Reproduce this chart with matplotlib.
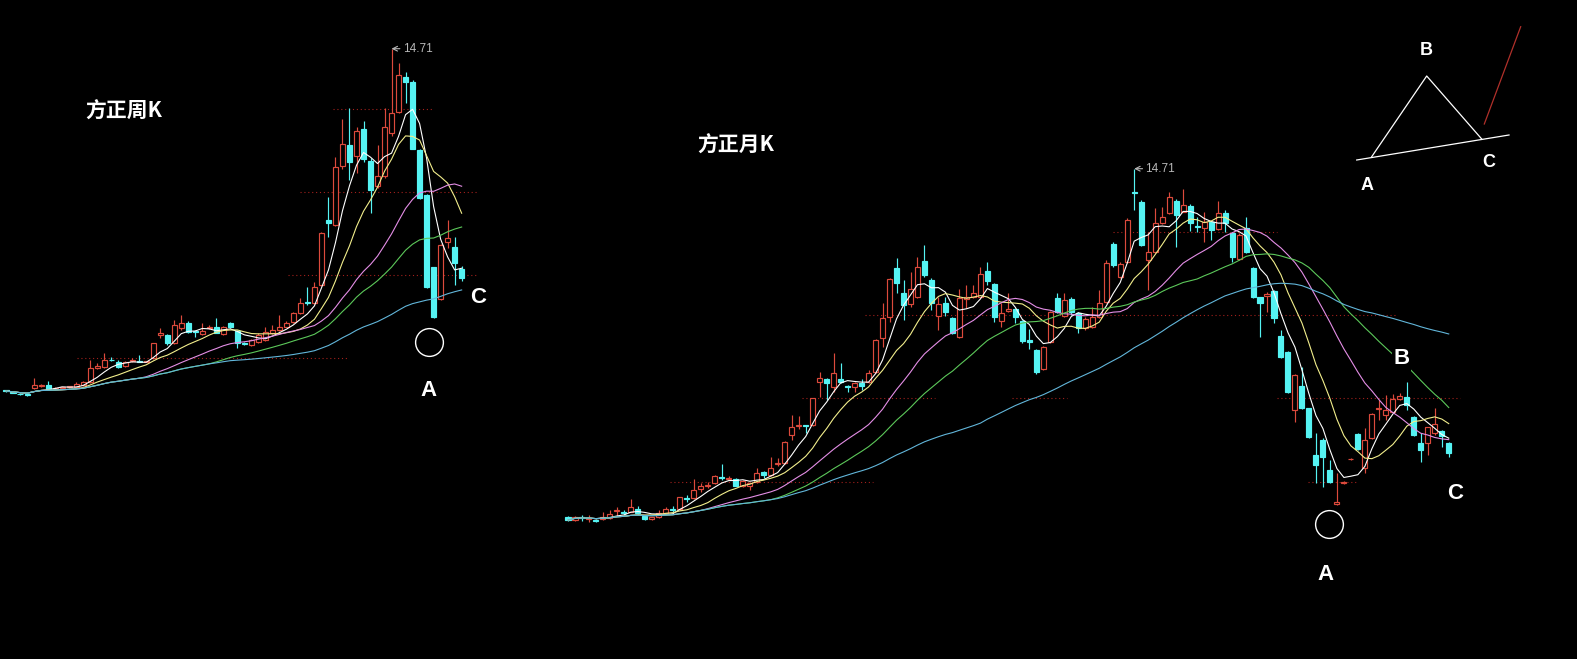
import numpy as np
import pandas as pd
import matplotlib
matplotlib.use('Agg')
import matplotlib.pyplot as plt

# ---- weekly K (方正周K) ----
week_open = [3.32, 3.26, 3.21, 3.19, 3.39, 3.48, 3.50, 3.38, 3.40, 3.42,
             3.44, 3.50, 3.61, 4.08, 4.11, 4.34, 4.28, 4.13, 4.30, 4.30,
             4.28, 4.39, 5.18, 5.17, 4.89, 5.39, 5.56, 5.30, 5.20, 5.39,
             5.42, 5.20, 5.56, 5.30, 4.90, 4.83, 4.94, 5.00, 5.22, 5.33,
             5.44, 5.61, 5.89, 6.28, 6.22, 6.83, 9.00, 8.83, 10.80, 11.50,
             11.13, 12.02, 10.98, 10.13, 10.47, 11.89, 12.61, 13.78, 13.61, 11.33,
             9.83, 7.42, 6.36, 8.28, 8.10, 7.36]
week_high = [3.35, 3.28, 3.23, 3.21, 3.72, 3.55, 3.64, 3.43, 3.45, 3.48,
             3.61, 3.65, 4.33, 4.22, 4.56, 4.44, 4.33, 4.31, 4.39, 4.50,
             4.31, 4.90, 5.39, 5.19, 5.67, 5.83, 5.62, 5.32, 5.56, 5.50,
             5.72, 5.47, 5.60, 5.33, 4.95, 5.03, 5.22, 5.44, 5.50, 5.83,
             5.62, 5.92, 6.39, 6.78, 6.94, 8.60, 9.78, 11.11, 12.36, 12.74,
             12.11, 12.31, 11.05, 11.50, 12.74, 14.71, 14.22, 13.94, 13.67, 11.36,
             9.86, 7.45, 8.20, 9.00, 8.44, 7.47]
week_low = [3.28, 3.22, 3.18, 3.14, 3.36, 3.45, 3.33, 3.36, 3.38, 3.40,
            3.42, 3.48, 3.58, 4.02, 4.08, 4.30, 4.06, 4.11, 4.28, 4.26,
            4.26, 4.37, 5.06, 4.83, 4.86, 5.35, 5.25, 5.11, 5.18, 5.37,
            5.22, 5.18, 5.40, 4.72, 4.83, 4.80, 4.90, 4.97, 5.20, 5.31,
            5.42, 5.58, 5.86, 6.17, 6.20, 6.80, 8.44, 8.80, 10.70, 10.33,
            10.56, 10.95, 9.22, 10.05, 10.40, 11.80, 12.55, 12.89, 11.35, 9.70,
            6.75, 5.72, 6.33, 8.06, 6.83, 6.98]
week_close = [3.30, 3.24, 3.20, 3.16, 3.50, 3.50, 3.36, 3.40, 3.43, 3.45,
              3.53, 3.61, 4.06, 4.12, 4.33, 4.32, 4.11, 4.28, 4.32, 4.28,
              4.29, 4.89, 5.22, 4.89, 5.50, 5.56, 5.28, 5.27, 5.31, 5.44,
              5.24, 5.44, 5.42, 4.89, 4.87, 5.00, 5.17, 5.28, 5.33, 5.44,
              5.58, 5.89, 6.22, 6.22, 6.78, 8.56, 8.89, 10.78, 11.53, 10.94,
              11.98, 11.02, 10.00, 10.47, 12.09, 12.56, 13.83, 13.61, 11.36, 9.72,
              6.78, 5.78, 8.17, 8.39, 7.56, 7.06]

# ---- monthly K (方正月K) ----
month_open = [3.10, 3.00, 3.10, 3.04, 3.00, 3.03, 3.06, 3.30, 3.27, 3.28,
              3.37, 3.14, 3.03, 3.09, 3.24, 3.37, 3.36, 3.73, 3.73, 4.02,
              4.14, 4.22, 4.43, 4.37, 4.37, 4.13, 4.13, 4.28, 4.61, 4.50,
              4.87, 4.89, 5.83, 6.15, 6.15, 6.17, 7.61, 7.69, 7.44, 7.69,
              7.48, 7.44, 7.58, 7.61, 7.94, 9.06, 9.78, 11.39, 10.56, 10.20,
              10.44, 11.63, 11.00, 9.80, 10.24, 9.72, 9.11, 10.37, 10.44, 10.44,
              11.31, 10.87, 9.64, 9.98, 10.03, 9.64, 8.99, 8.67, 8.03, 8.94,
              10.39, 9.80, 10.36, 9.91, 9.39, 9.44, 9.78, 10.28, 12.20, 11.11,
              11.60, 13.93, 13.61, 11.67, 11.94, 12.89, 13.22, 13.64, 13.28, 13.48,
              12.80, 12.72, 12.94, 12.69, 13.24, 12.56, 11.69, 12.72, 11.39, 10.42,
              10.48, 10.63, 9.13, 8.61, 6.67, 7.47, 6.72, 5.17, 5.67, 4.67,
              3.52, 4.24, 5.02, 5.86, 4.72, 5.72, 6.70, 6.50, 6.61, 7.03,
              7.09, 6.44, 5.56, 5.58, 5.89, 5.98, 5.56]
month_high = [3.13, 3.13, 3.17, 3.17, 3.02, 3.28, 3.33, 3.42, 3.33, 3.69,
              3.47, 3.17, 3.11, 3.33, 3.42, 3.47, 3.78, 3.83, 4.36, 4.22,
              4.28, 4.50, 4.87, 4.47, 4.40, 4.33, 4.26, 4.72, 4.63, 5.09,
              5.06, 5.64, 6.50, 6.47, 6.17, 7.08, 7.94, 7.72, 8.56, 8.22,
              7.50, 7.60, 7.69, 8.00, 9.03, 10.22, 11.05, 11.72, 11.00, 11.28,
              11.78, 12.17, 11.05, 10.44, 10.44, 9.75, 10.69, 10.83, 10.83, 11.44,
              11.61, 10.89, 10.24, 10.56, 10.06, 9.67, 9.36, 8.70, 8.80, 9.97,
              10.56, 10.56, 10.44, 9.94, 9.75, 10.11, 10.67, 11.67, 12.25, 11.60,
              13.05, 14.71, 13.67, 12.61, 13.39, 13.44, 13.94, 13.70, 14.02, 13.52,
              13.09, 13.28, 12.98, 13.64, 13.33, 12.60, 12.55, 13.09, 11.42, 10.45,
              10.61, 10.67, 9.33, 8.63, 7.87, 8.11, 6.75, 5.89, 5.72, 5.00,
              4.56, 4.30, 5.06, 5.90, 6.06, 6.56, 7.00, 7.17, 7.20, 7.22,
              7.61, 6.47, 5.89, 6.11, 6.72, 6.00, 5.60]
month_low = [2.97, 2.98, 2.98, 2.94, 2.94, 3.00, 3.03, 3.13, 3.17, 3.26,
             3.17, 3.00, 3.00, 3.07, 3.22, 3.28, 3.33, 3.61, 3.70, 3.94,
             4.06, 4.19, 4.33, 4.33, 4.12, 4.10, 4.00, 4.22, 4.40, 4.47,
             4.80, 4.86, 5.67, 6.02, 5.89, 6.14, 7.11, 7.00, 7.28, 7.56,
             7.28, 7.28, 7.33, 7.58, 7.90, 8.78, 9.61, 10.56, 9.67, 10.10,
             10.40, 11.11, 10.00, 9.33, 9.80, 9.20, 9.05, 10.06, 10.40, 10.40,
             10.83, 9.60, 9.42, 9.94, 9.56, 8.90, 8.70, 7.87, 8.00, 8.90,
             9.90, 9.78, 9.83, 9.22, 9.33, 9.40, 9.74, 10.24, 11.45, 11.05,
             11.55, 13.33, 12.13, 10.67, 11.90, 12.85, 13.20, 12.09, 13.25, 12.64,
             12.61, 12.28, 12.33, 12.65, 12.61, 11.61, 11.65, 11.90, 10.40, 9.11,
             9.94, 9.56, 8.40, 7.25, 6.28, 6.70, 5.73, 4.22, 4.11, 4.22,
             3.50, 4.20, 5.00, 5.33, 4.56, 5.70, 6.33, 6.33, 6.58, 7.00,
             6.67, 5.80, 4.94, 5.17, 5.85, 5.44, 5.09]
month_close = [3.00, 3.11, 3.08, 3.07, 2.97, 3.11, 3.19, 3.33, 3.24, 3.44,
               3.22, 3.03, 3.09, 3.22, 3.36, 3.34, 3.76, 3.70, 4.00, 4.13,
               4.17, 4.47, 4.40, 4.40, 4.14, 4.30, 4.22, 4.58, 4.50, 4.72,
               4.89, 5.61, 6.11, 6.17, 6.12, 7.06, 7.72, 7.58, 7.89, 7.59,
               7.45, 7.58, 7.47, 7.89, 9.00, 9.72, 11.02, 10.89, 10.17, 10.70,
               11.44, 11.17, 10.22, 10.20, 9.94, 9.24, 10.39, 10.43, 10.58, 11.20,
               10.98, 9.78, 9.89, 10.03, 9.76, 8.97, 8.95, 7.94, 8.78, 9.94,
               9.94, 10.33, 9.94, 9.39, 9.69, 9.78, 10.22, 11.56, 11.50, 11.52,
               13.00, 13.89, 12.17, 11.94, 12.89, 13.11, 13.76, 13.17, 13.50, 12.89,
               12.76, 12.94, 12.67, 13.22, 12.89, 11.78, 12.50, 11.94, 10.44, 10.24,
               10.52, 9.74, 8.44, 7.28, 7.83, 6.72, 5.76, 4.83, 5.11, 4.28,
               3.60, 4.27, 5.04, 5.36, 5.67, 6.53, 6.74, 6.67, 7.02, 7.14,
               6.83, 5.83, 5.33, 6.09, 6.20, 5.80, 5.22]

# dotted price levels: (price, first bar, last bar)
week_levels = [(12.70, 46.6, 60.9), (9.93, 41.9, 67.2), (7.17, 40.2, 67.2), (4.40, 10.1, 48.8)]
month_levels = [(12.60, 78.0, 101.4), (9.83, 42.5, 118.6), (7.07, 33.5, 52.5),
                (7.07, 63.5, 71.4), (7.07, 101.4, 127.6), (4.27, 14.6, 43.6),
                (4.27, 105.9, 112.9)]

# wave labels (text, bar, price) and the circled low (bar, price)
week_title = ('方正周K', 11.3, 12.63)
month_title = ('方正月K', 18.45, 15.5)
week_marks = [('A', 60.2, 3.3), ('C', 67.3, 6.4)]
month_marks = [('A', 108.4, 1.2), ('B', 119.2, 8.37), ('C', 126.9, 3.87)]
week_circle = (60.3, 4.92)
month_circle = (108.9, 2.87)

MA_WINDOWS = [5, 10, 20, 30, 60]
MA_COLORS = ['#ffffff', '#f2ee8c', '#e48ee6', '#5cc85a', '#62b6da']
UP, DOWN = '#dc4a3c', '#55f3f3'
GRID = '#a3201c'

W, H = 1577, 659
CJK = ['Noto Sans CJK SC', 'DejaVu Sans']


def draw_candles(ax, op, hi, lo, cl, width=0.72):
    op, hi, lo, cl = map(np.asarray, (op, hi, lo, cl))
    x = np.arange(len(op))
    up = cl >= op
    for mask, col, face in ((up, UP, 'black'), (~up, DOWN, DOWN)):
        ax.vlines(x[mask], lo[mask], hi[mask], color=col, lw=0.85, zorder=2)
        bottom = np.minimum(op, cl)[mask]
        height = np.abs(cl - op)[mask]
        ax.bar(x[mask], height, width, bottom=bottom, facecolor=face,
               edgecolor=col, lw=0.85, zorder=3)


def draw_mas(ax, cl):
    s = pd.Series(cl)
    for n, col in zip(MA_WINDOWS, MA_COLORS):
        ax.plot(s.index, s.rolling(n, min_periods=1).mean(), color=col, lw=0.8, zorder=4)


def mark_high(ax, hi):
    k = int(np.argmax(hi))
    ax.annotate(f'{hi[k]:.2f}', xy=(k, hi[k]), xytext=(8, 0), textcoords='offset points',
                ha='left', va='center', color='#b8b8b8', fontsize=8.5,
                family='Liberation Sans', zorder=6,
                arrowprops=dict(arrowstyle='->', color='#b8b8b8', lw=0.8,
                                shrinkA=0, shrinkB=0))


def panel(fig, x0, step, y0, op, hi, lo, cl, levels, title, marks, circle):
    # x0: pixel of the first bar, step: pixels per bar, y0: pixel row of price 0
    ax = fig.add_axes([0, 0, 1, 1])
    ax.patch.set_alpha(0)
    ax.set_xlim(-x0 / step, (W - x0) / step)
    ax.set_ylim((y0 - H) / 30, y0 / 30)
    ax.axis('off')
    for p, a, b in levels:
        ax.hlines(p, a, b, color=GRID, lw=0.8, linestyles=(0, (1, 2.5)), zorder=1)
    draw_candles(ax, op, hi, lo, cl)
    draw_mas(ax, cl)
    mark_high(ax, hi)
    ax.text(title[1], title[2], title[0], color='white', fontsize=15, fontweight='bold',
            family=CJK, ha='left', va='center')
    for t, x, y in marks:
        ax.text(x, y, t, color='white', fontsize=16, fontweight='bold',
                family='Liberation Sans', ha='center', va='center', zorder=6,
                bbox=dict(facecolor='black', edgecolor='none', pad=1))
    ax.plot(*circle, marker='o', ms=20, mfc='none', mec='white', mew=1.0, zorder=6)
    return ax


fig = plt.figure(figsize=(W / 100, H / 100), dpi=100, facecolor='black')

panel(fig, 6, 7.01, 490, week_open, week_high, week_low, week_close,
      week_levels, week_title, week_marks, week_circle)
panel(fig, 568, 6.99, 610, month_open, month_high, month_low, month_close,
      month_levels, month_title, month_marks, month_circle)

# ABC sketch in the top right corner
sketch = {'base': [(16.7, 140), (169, 115)],
          'wave': [(31.7, 136.7), (86.7, 56), (141.7, 119)],
          'up': [(144.3, 104), (180.7, 6.7)],
          'labels': [('B', 86.7, 30.7), ('A', 26.7, 165), ('C', 148.3, 142.7)]}
axs = fig.add_axes([1340 / W, 1 - 200 / H, 190 / W, 180 / H])
axs.patch.set_alpha(0)
axs.set_xlim(0, 190)
axs.set_ylim(180, 0)
axs.axis('off')
for key, col in (('base', 'white'), ('wave', 'white'), ('up', '#b0302a')):
    xs, ys = zip(*sketch[key])
    axs.plot(xs, ys, color=col, lw=0.9)
for t, x, y in sketch['labels']:
    axs.text(x, y, t, color='white', fontsize=13, fontweight='bold',
             family='Liberation Sans', ha='center', va='center')

fig.savefig('out.png', dpi=100, facecolor='black')
